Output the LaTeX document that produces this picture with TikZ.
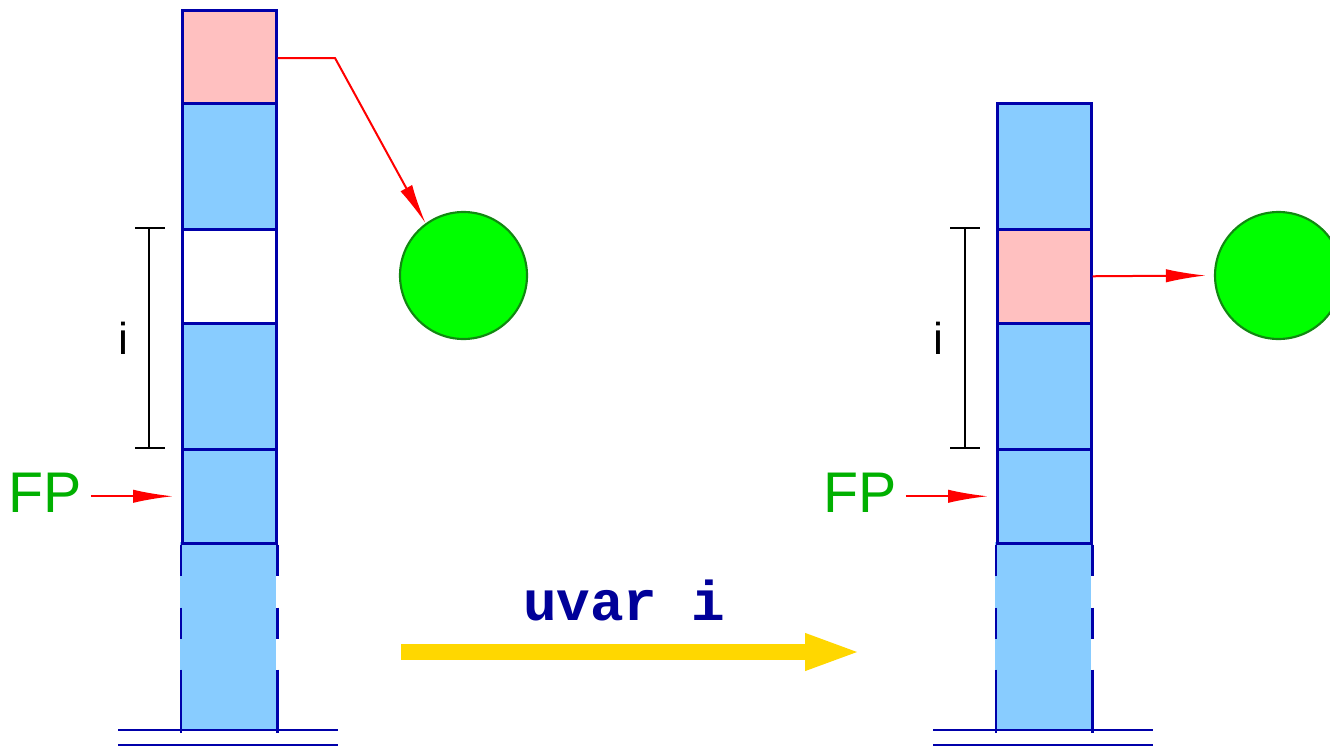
\documentclass[tikz,border=0pt]{standalone}
\usepackage{fontspec}
\setmainfont{Liberation Sans}
\newfontfamily\monob{Liberation Mono}
\usetikzlibrary{arrows.meta}
\definecolor{cellblue}{HTML}{88CCFF}
\definecolor{cellpink}{HTML}{FFC0C0}
\definecolor{stackblue}{HTML}{0000AA}
\definecolor{ballgreen}{HTML}{00FF00}
\definecolor{balledge}{HTML}{118811}
\definecolor{fpgreen}{HTML}{00B000}
\definecolor{codeblue}{HTML}{000099}
\definecolor{gold}{HTML}{FFD700}
\begin{document}
\begin{tikzpicture}[x=0.75pt,y=-0.75pt,
  cell/.style={draw=stackblue, line width=1.9pt, inner sep=0pt, minimum width=70.5pt, anchor=north west},
  cellfill/.style={inner sep=0pt, outer sep=0pt, minimum width=72.4pt, minimum height=141pt, anchor=north, fill=cellblue},
  stackline/.style={draw=stackblue, line width=1.9pt},
  ball/.style={circle, fill=ballgreen, draw=balledge, line width=1.6pt, minimum size=95.25pt, inner sep=0pt},
  redarrow/.style={red, line width=1.5pt, -{Latex[length=30pt, width=10pt]}},
  bracket/.style={black, line width=1.5pt},
  fplabel/.style={text=fpgreen, font=\fontsize{43pt}{43pt}\selectfont, inner sep=0pt, anchor=base},
  ilabel/.style={font=\fontsize{33.5pt}{33.5pt}\selectfont, inner sep=0pt, anchor=base}]
\useasboundingbox (0,0) rectangle (1330,746);

% ---------- left stack ----------
\node[cellfill] (L6) at (228,542) {};
\node[cell, fill=cellpink, minimum height=69.75pt] (L1) at (181,9) {};
\node[cell, fill=cellblue, minimum height=94.5pt] (L2) at (181,102) {};
\node[cell, fill=white, minimum height=70.5pt] (L3) at (181,228) {};
\node[cell, fill=cellblue, minimum height=94.5pt] (L4) at (181,322) {};
\node[cell, fill=cellblue, minimum height=70.5pt] (L5) at (181,448) {};
\draw[stackline] (L5.south west) -- ++(0,31) ++(0,32) -- ++(0,31) ++(0,31) -- ++(0,63);
\draw[stackline] (L5.south east) -- ++(0,31) ++(0,32) -- ++(0,31) ++(0,31) -- ++(0,63);
\draw[stackline] (118,730) -- (338,730);
\draw[stackline, line width=1.5pt] (118,745) -- (338,745);

\draw[bracket] (149,228) -- (149,448);
\draw[bracket] (135,228) -- (165,228);
\draw[bracket] (135,448) -- (165,448);
\node[ilabel] (LI) at (123.5,354) {i};
\node[fplabel] (LFP) at (45,512) {FP};
\draw[redarrow, shorten <=6.75pt] (LFP.east |- L5.west) -- ([xshift=-6pt]L5.west);

\node[ball] (C1) at (463.5,275.5) {};
\coordinate (K1) at (335,58);
\draw[red, line width=1.5pt, -{Latex[length=30pt, width=10pt]}] (L1.east |- K1) -- (K1) -- (C1.126);

% ---------- transition ----------
\coordinate (YS) at (401,652);
\coordinate (YE) at (862,652);
\draw[gold, line width=12pt, -{Triangle[length=42.75pt, width=24.75pt]}] (YS) -- (YE);
\node[text=codeblue, font=\monob\bfseries\fontsize{42pt}{42pt}\selectfont, inner sep=0pt, anchor=base] (UV) at (624,620) {uvar i};

% ---------- right stack ----------
\node[cellfill] (R6) at (1043,542) {};
\node[cell, fill=cellblue, minimum height=94.5pt] (R1) at (996,102) {};
\node[cell, fill=cellpink, minimum height=70.5pt] (R2) at (996,228) {};
\node[cell, fill=cellblue, minimum height=94.5pt] (R3) at (996,322) {};
\node[cell, fill=cellblue, minimum height=70.5pt] (R4) at (996,448) {};
\draw[stackline] (R4.south west) -- ++(0,31) ++(0,32) -- ++(0,31) ++(0,31) -- ++(0,63);
\draw[stackline] (R4.south east) -- ++(0,31) ++(0,32) -- ++(0,31) ++(0,31) -- ++(0,63);
\draw[stackline] (933,730) -- (1153,730);
\draw[stackline, line width=1.5pt] (933,745) -- (1153,745);

\draw[bracket] (965,228) -- (965,448);
\draw[bracket] (950,228) -- (980,228);
\draw[bracket] (950,448) -- (980,448);
\node[ilabel] (RI) at (938.5,354) {i};
\node[fplabel] (RFP) at (860,512) {FP};
\draw[redarrow, shorten <=6.75pt] (RFP.east |- R4.west) -- ([xshift=-6pt]R4.west);

\node[ball] (C2) at (1278.5,275.5) {};
\draw[redarrow] (R2.east) -- ([xshift=-6pt]C2.west);
\end{tikzpicture}
\end{document}
